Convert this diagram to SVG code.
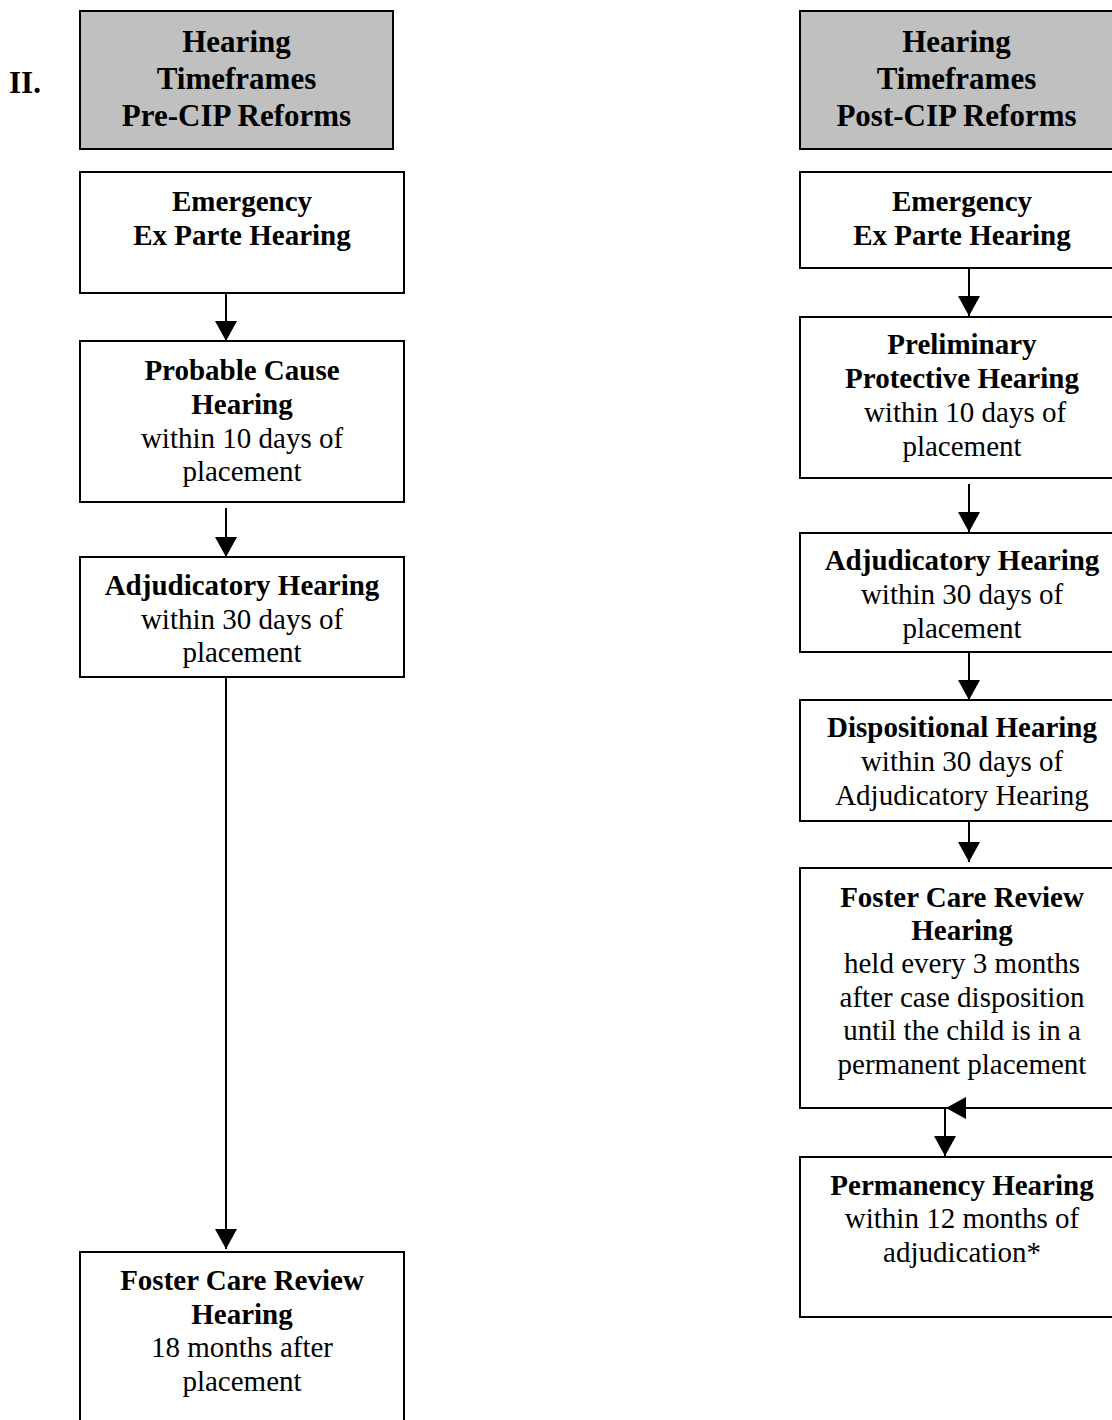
<svg xmlns="http://www.w3.org/2000/svg" width="1112" height="1420" viewBox="0 0 1112 1420">
  <style>
    .box { fill: #ffffff; stroke: #000000; stroke-width: 2; }
    .head { fill: #c0c0c0; stroke: #000000; stroke-width: 2; }
    .t { font-family: "Liberation Serif", "Times New Roman", serif; font-size: 29px; fill: #000000; text-anchor: middle; }
    .b { font-weight: bold; }
    .h { font-family: "Liberation Serif", "Times New Roman", serif; font-size: 31px; font-weight: bold; fill: #000000; text-anchor: middle; }
    .wire { fill: none; stroke: #000000; stroke-width: 2; }
  </style>
  <defs>
    <marker id="arrow" viewBox="0 0 20 22" refX="20" refY="11" markerWidth="20" markerHeight="22" markerUnits="userSpaceOnUse" orient="auto">
      <path d="M0,0 L20,11 L0,22 Z" fill="#000000"/>
    </marker>
  </defs>

  <rect width="1112" height="1420" fill="#ffffff"/>

  <!-- section number -->
  <text class="h" x="25" y="93">II.</text>

  <!-- left column: before reforms -->
  <g id="pre-header">
    <rect class="head" x="80" y="11" width="313" height="138"/>
    <text class="h" x="236.5" y="52">Hearing</text>
    <text class="h" x="236.5" y="89">Timeframes</text>
    <text class="h" x="236.5" y="126">Pre-CIP Reforms</text>
  </g>

  <g id="pre-emergency">
    <rect class="box" x="80" y="172" width="324" height="121"/>
    <text class="t b" x="242" y="211">Emergency</text>
    <text class="t b" x="242" y="245">Ex Parte Hearing</text>
  </g>

  <g id="pre-probable-cause">
    <rect class="box" x="80" y="341" width="324" height="161"/>
    <text class="t b" x="242" y="380">Probable Cause</text>
    <text class="t b" x="242" y="414">Hearing</text>
    <text class="t" x="242" y="447.5">within 10 days of</text>
    <text class="t" x="242" y="481">placement</text>
  </g>

  <g id="pre-adjudicatory">
    <rect class="box" x="80" y="557" width="324" height="120"/>
    <text class="t b" x="242" y="595">Adjudicatory Hearing</text>
    <text class="t" x="242" y="628.5">within 30 days of</text>
    <text class="t" x="242" y="662">placement</text>
  </g>

  <g id="pre-foster-review">
    <rect class="box" x="80" y="1252" width="324" height="200"/>
    <text class="t b" x="242" y="1290">Foster Care Review</text>
    <text class="t b" x="242" y="1323.5">Hearing</text>
    <text class="t" x="242" y="1357">18 months after</text>
    <text class="t" x="242" y="1390.5">placement</text>
  </g>

  <!-- right column: after reforms -->
  <g id="post-header">
    <rect class="head" x="800" y="11" width="313" height="138"/>
    <text class="h" x="956.5" y="52">Hearing</text>
    <text class="h" x="956.5" y="89">Timeframes</text>
    <text class="h" x="956.5" y="126">Post-CIP Reforms</text>
  </g>

  <g id="post-emergency">
    <rect class="box" x="800" y="172" width="324" height="96"/>
    <text class="t b" x="962" y="211">Emergency</text>
    <text class="t b" x="962" y="245">Ex Parte Hearing</text>
  </g>

  <g id="post-preliminary">
    <rect class="box" x="800" y="317" width="324" height="161"/>
    <text class="t b" x="962" y="354">Preliminary</text>
    <text class="t b" x="962" y="388">Protective Hearing</text>
    <text class="t" x="965" y="422">within 10 days of</text>
    <text class="t" x="962" y="455.5">placement</text>
  </g>

  <g id="post-adjudicatory">
    <rect class="box" x="800" y="533" width="324" height="119"/>
    <text class="t b" x="962" y="570">Adjudicatory Hearing</text>
    <text class="t" x="962" y="604">within 30 days of</text>
    <text class="t" x="962" y="637.5">placement</text>
  </g>

  <g id="post-dispositional">
    <rect class="box" x="800" y="700" width="324" height="121"/>
    <text class="t b" x="962" y="737">Dispositional Hearing</text>
    <text class="t" x="962" y="771">within 30 days of</text>
    <text class="t" x="962" y="804.5">Adjudicatory Hearing</text>
  </g>

  <g id="post-foster-review">
    <rect class="box" x="800" y="868" width="324" height="240"/>
    <text class="t b" x="962" y="907">Foster Care Review</text>
    <text class="t b" x="962" y="940">Hearing</text>
    <text class="t" x="962" y="973">held every 3 months</text>
    <text class="t" x="962" y="1006.5">after case disposition</text>
    <text class="t" x="962" y="1040">until the child is in a</text>
    <text class="t" x="962" y="1073.5">permanent placement</text>
  </g>

  <g id="post-permanency">
    <rect class="box" x="800" y="1157" width="324" height="160"/>
    <text class="t b" x="962" y="1195">Permanency Hearing</text>
    <text class="t" x="962" y="1228">within 12 months of</text>
    <text class="t" x="962" y="1262">adjudication*</text>
  </g>

  <!-- connectors -->
  <g id="connectors">
    <path class="wire" d="M226,293 L226,341" marker-end="url(#arrow)"/>
    <path class="wire" d="M226,508 L226,557" marker-end="url(#arrow)"/>
    <path class="wire" d="M226,677 L226,1249" marker-end="url(#arrow)"/>

    <path class="wire" d="M969,268 L969,316" marker-end="url(#arrow)"/>
    <path class="wire" d="M969,484 L969,532" marker-end="url(#arrow)"/>
    <path class="wire" d="M969,652 L969,700" marker-end="url(#arrow)"/>
    <path class="wire" d="M969,821 L969,862" marker-end="url(#arrow)"/>
    <path class="wire" d="M968,1108 L946,1108" marker-end="url(#arrow)"/>
    <path class="wire" d="M945,1108 L945,1156" marker-end="url(#arrow)"/>
  </g>
</svg>
